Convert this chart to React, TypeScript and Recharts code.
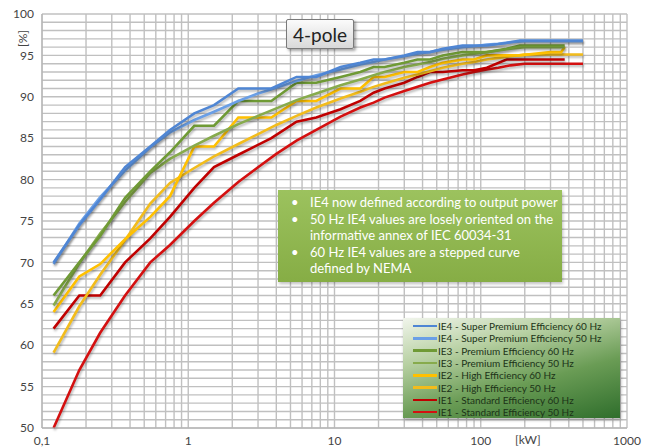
import React from 'react';
import { LineChart, Line, XAxis, YAxis, CartesianGrid } from 'recharts';

// Rated output powers [kW]
const kw50Long = [0.12, 0.18, 0.25, 0.37, 0.55, 0.75, 1.1, 1.5, 2.2, 3, 4, 5.5, 7.5, 11, 15, 18.5, 22, 30, 37, 45, 55, 75, 90, 110, 132, 160, 200, 500];
const kw50Short = [0.12, 0.18, 0.25, 0.37, 0.55, 0.75, 1.1, 1.5, 2.2, 3, 4, 5.5, 7.5, 11, 15, 18.5, 22, 30, 37, 45, 55, 75, 90, 110, 132, 160, 200, 375];
const kw60Long = [0.12, 0.18, 0.25, 0.37, 0.55, 0.75, 1.1, 1.5, 2.2, 3.7, 5.5, 7.5, 11, 15, 18.5, 22, 30, 37, 45, 55, 75, 90, 110, 150, 185, 500];
const kw60Short = [0.12, 0.18, 0.25, 0.37, 0.55, 0.75, 1.1, 1.5, 2.2, 3.7, 5.5, 7.5, 11, 15, 18.5, 22, 30, 37, 45, 55, 75, 90, 110, 150, 185, 375];
const kw60Ie2 = [0.12, 0.18, 0.25, 0.37, 0.55, 0.75, 1.1, 1.5, 2.2, 3.7, 5.5, 7.5, 11, 15, 18.5, 22, 30, 37, 45, 55, 75, 90, 110, 150, 185, 300, 355, 375];

// Efficiencies [%]
const ie4Hz60 = [70.0, 74.5, 77.6, 81.5, 84.0, 86.0, 88.0, 89.0, 91.0, 91.0, 92.4, 92.4, 93.6, 94.1, 94.5, 94.5, 95.0, 95.4, 95.4, 95.8, 96.2, 96.2, 96.2, 96.5, 96.8, 96.8];
const ie4Hz50 = [69.8, 74.7, 77.9, 81.1, 83.9, 85.7, 87.2, 88.2, 89.5, 90.4, 91.1, 91.9, 92.6, 93.3, 93.9, 94.2, 94.5, 94.9, 95.2, 95.4, 95.7, 96.0, 96.1, 96.3, 96.4, 96.6, 96.7, 96.7];
const ie3Hz60 = [66.0, 70.0, 73.2, 77.8, 81.0, 83.3, 86.5, 86.5, 89.5, 89.5, 91.7, 91.7, 92.4, 93.0, 93.6, 93.6, 94.1, 94.5, 94.5, 95.0, 95.4, 95.4, 95.4, 95.8, 96.2, 96.2];
const ie3Hz50 = [64.8, 69.9, 73.5, 77.3, 80.8, 82.5, 84.1, 85.3, 86.7, 87.7, 88.6, 89.6, 90.4, 91.4, 92.1, 92.6, 93.0, 93.6, 93.9, 94.2, 94.6, 95.0, 95.2, 95.4, 95.6, 95.8, 96.0, 96.0];
const ie2Hz60 = [64.0, 68.3, 69.8, 72.8, 75.5, 78.0, 84.0, 84.0, 87.5, 87.5, 89.5, 89.5, 91.0, 91.0, 92.4, 92.4, 93.0, 93.0, 93.6, 94.1, 94.5, 94.5, 95.0, 95.0, 95.0, 95.4, 95.4, 96.0];
const ie2Hz50 = [59.1, 64.7, 68.5, 72.7, 77.1, 79.6, 81.4, 82.8, 84.3, 85.5, 86.6, 87.7, 88.7, 89.8, 90.6, 91.2, 91.6, 92.3, 92.7, 93.1, 93.5, 94.0, 94.2, 94.5, 94.7, 94.9, 95.1, 95.1];
const ie1Hz60 = [62.0, 66.0, 66.0, 70.0, 72.9, 75.5, 79.0, 81.5, 83.0, 85.0, 87.0, 87.5, 88.5, 89.5, 90.5, 91.0, 91.7, 92.4, 93.0, 93.0, 93.2, 93.2, 93.5, 94.5, 94.5, 94.5];
const ie1Hz50 = [50.0, 57.0, 61.5, 66.0, 70.0, 72.1, 75.0, 77.2, 79.7, 81.5, 83.1, 84.7, 86.0, 87.6, 88.7, 89.3, 89.9, 90.7, 91.2, 91.7, 92.1, 92.7, 93.0, 93.3, 93.5, 93.8, 94.0, 94.0];

const seriesNames = [
  'IE4 - Super Premium Efficiency 60 Hz',
  'IE4 - Super Premium Efficiency 50 Hz',
  'IE3 - Premium Efficiency 60 Hz',
  'IE3 - Premium Efficiency 50 Hz',
  'IE2 - High Efficiency 60 Hz',
  'IE2 - High Efficiency 50 Hz',
  'IE1 - Standard Efficiency 60 Hz',
  'IE1 - Standard Efficiency 50 Hz',
];
const seriesColors = ['#4f86d4', '#6a9fe6', '#6f9a35', '#87ab4c', '#ffc000', '#f2bc1c', '#c00000', '#d41010'];

const xTicks = [0.1, 0.2, 0.3, 0.4, 0.5, 0.6, 0.7, 0.8, 0.9, 1, 2, 3, 4, 5, 6, 7, 8, 9, 10, 20, 30, 40, 50, 60, 70, 80, 90, 100, 200, 300, 400, 500, 600, 700, 800, 900, 1000];
const xTickLabels: Record<string, string> = { '0.1': '0,1', '1': '1', '10': '10', '100': '100', '1000': '1000' };
const yTicks = [50, 51, 52, 53, 54, 55, 56, 57, 58, 59, 60, 61, 62, 63, 64, 65, 66, 67, 68, 69, 70, 71, 72, 73, 74, 75, 76, 77, 78, 79, 80, 81, 82, 83, 84, 85, 86, 87, 88, 89, 90, 91, 92, 93, 94, 95, 96, 97, 98, 99, 100];
const yLabeled = [50, 55, 60, 65, 70, 75, 80, 85, 90, 95, 100];

const notes = [
  { bullet: true, text: 'IE4 now defined according to output power' },
  { bullet: true, text: '50 Hz IE4 values are losely oriented on the' },
  { bullet: false, text: 'informative annex of IEC 60034-31' },
  { bullet: true, text: '60 Hz IE4 values are a stepped curve' },
  { bullet: false, text: 'defined by NEMA' },
];

const pack = (xs: number[], ys: number[]) => xs.map((x, i) => ({ x, y: ys[i] }));

const seriesData = [
  pack(kw60Long, ie4Hz60),
  pack(kw50Long, ie4Hz50),
  pack(kw60Short, ie3Hz60),
  pack(kw50Short, ie3Hz50),
  pack(kw60Ie2, ie2Hz60),
  pack(kw50Long, ie2Hz50),
  pack(kw60Short, ie1Hz60),
  pack(kw50Long, ie1Hz50),
];

const FONT = 'Lato, "Open Sans", sans-serif';
const drawOrder = [7, 6, 5, 4, 3, 2, 1, 0];

export default function App() {
  return (
    <div style={{ position: 'absolute', left: 0, top: 0, width: 648, height: 447, background: '#fff', fontFamily: FONT }}>
      <LineChart width={648} height={447} margin={{ top: 14, right: 21, bottom: 0, left: 0 }}>
        <CartesianGrid stroke="#c0c0c0" strokeWidth={1.4} horizontalValues={yTicks} verticalValues={xTicks} />
        <XAxis
          dataKey="x"
          type="number"
          scale="log"
          domain={[0.1, 1000]}
          ticks={xTicks}
          allowDataOverflow
          height={19}
          tickLine={false}
          axisLine={{ stroke: '#b0b0b0' }}
          interval={0}
          tick={{ fontSize: 12, fill: '#444', fontFamily: FONT }}
          tickFormatter={(v: number) => xTickLabels[String(v)] ?? ''}
        />
        <YAxis
          type="number"
          domain={[50, 100]}
          ticks={yTicks}
          interval={0}
          width={42}
          tickLine={false}
          axisLine={{ stroke: '#b0b0b0' }}
          tick={{ fontSize: 12, fill: '#444', fontFamily: FONT }}
          tickFormatter={(v: number) => (yLabeled.includes(v) ? String(v) : '')}
        />
        {drawOrder.map((i) => (
          <Line
            key={i}
            data={seriesData[i]}
            dataKey="y"
            name={seriesNames[i]}
            stroke={seriesColors[i]}
            strokeWidth={2.6}
            dot={false}
            type="linear"
            isAnimationActive={false}
            style={{ filter: 'drop-shadow(1px 2px 1px rgba(0,0,0,0.28))' }}
          />
        ))}
      </LineChart>

      <div style={{ position: 'absolute', left: 10, top: 31, transform: 'rotate(-90deg)', transformOrigin: 'center', fontSize: 12, color: '#444', width: 24, textAlign: 'center' }}>[%]</div>
      <div style={{ position: 'absolute', left: 515, top: 432, fontSize: 12, color: '#444' }}>[kW]</div>

      <div style={{
        position: 'absolute', left: 286, top: 19, width: 66, height: 28,
        background: 'linear-gradient(#fbfbfb, #d9d9d9)', border: '1px solid #7a7a7a', borderRadius: 2,
        boxShadow: '2px 2px 3px rgba(0,0,0,0.35)', display: 'flex', alignItems: 'center', justifyContent: 'center',
        fontSize: 19, color: '#222',
      }}>4-pole</div>

      <div style={{
        position: 'absolute', left: 278, top: 190, width: 284, height: 92,
        background: 'linear-gradient(#9cc25e, #86ad45)', boxShadow: '1px 2px 3px rgba(0,0,0,0.25)',
        color: '#fff', fontSize: 13, lineHeight: '16.6px', paddingTop: 4, boxSizing: 'border-box',
      }}>
        {notes.map((n, i) => (
          <div key={i} style={{ position: 'relative', paddingLeft: 32, whiteSpace: 'nowrap' }}>
            {n.bullet ? <span style={{ position: 'absolute', left: 13 }}>•</span> : null}
            {n.text}
          </div>
        ))}
      </div>

      <div style={{
        position: 'absolute', left: 403, top: 318, width: 217, height: 100,
        background: 'linear-gradient(165deg, #f1f5ec 0%, #b7d0a2 30%, #6a9c55 62%, #2f6e2c 100%)',
        boxShadow: '1px 2px 3px rgba(0,0,0,0.3)', boxSizing: 'border-box', paddingTop: 2,
      }}>
        {seriesNames.map((name, i) => (
          <div key={i} style={{ display: 'flex', alignItems: 'center', height: 12.3, fontSize: 10, color: '#1c3318', whiteSpace: 'nowrap' }}>
            <span style={{ display: 'inline-block', width: 24, height: 2.5, background: seriesColors[i], marginLeft: 10, marginRight: 1 }} />
            {name}
          </div>
        ))}
      </div>
    </div>
  );
}
